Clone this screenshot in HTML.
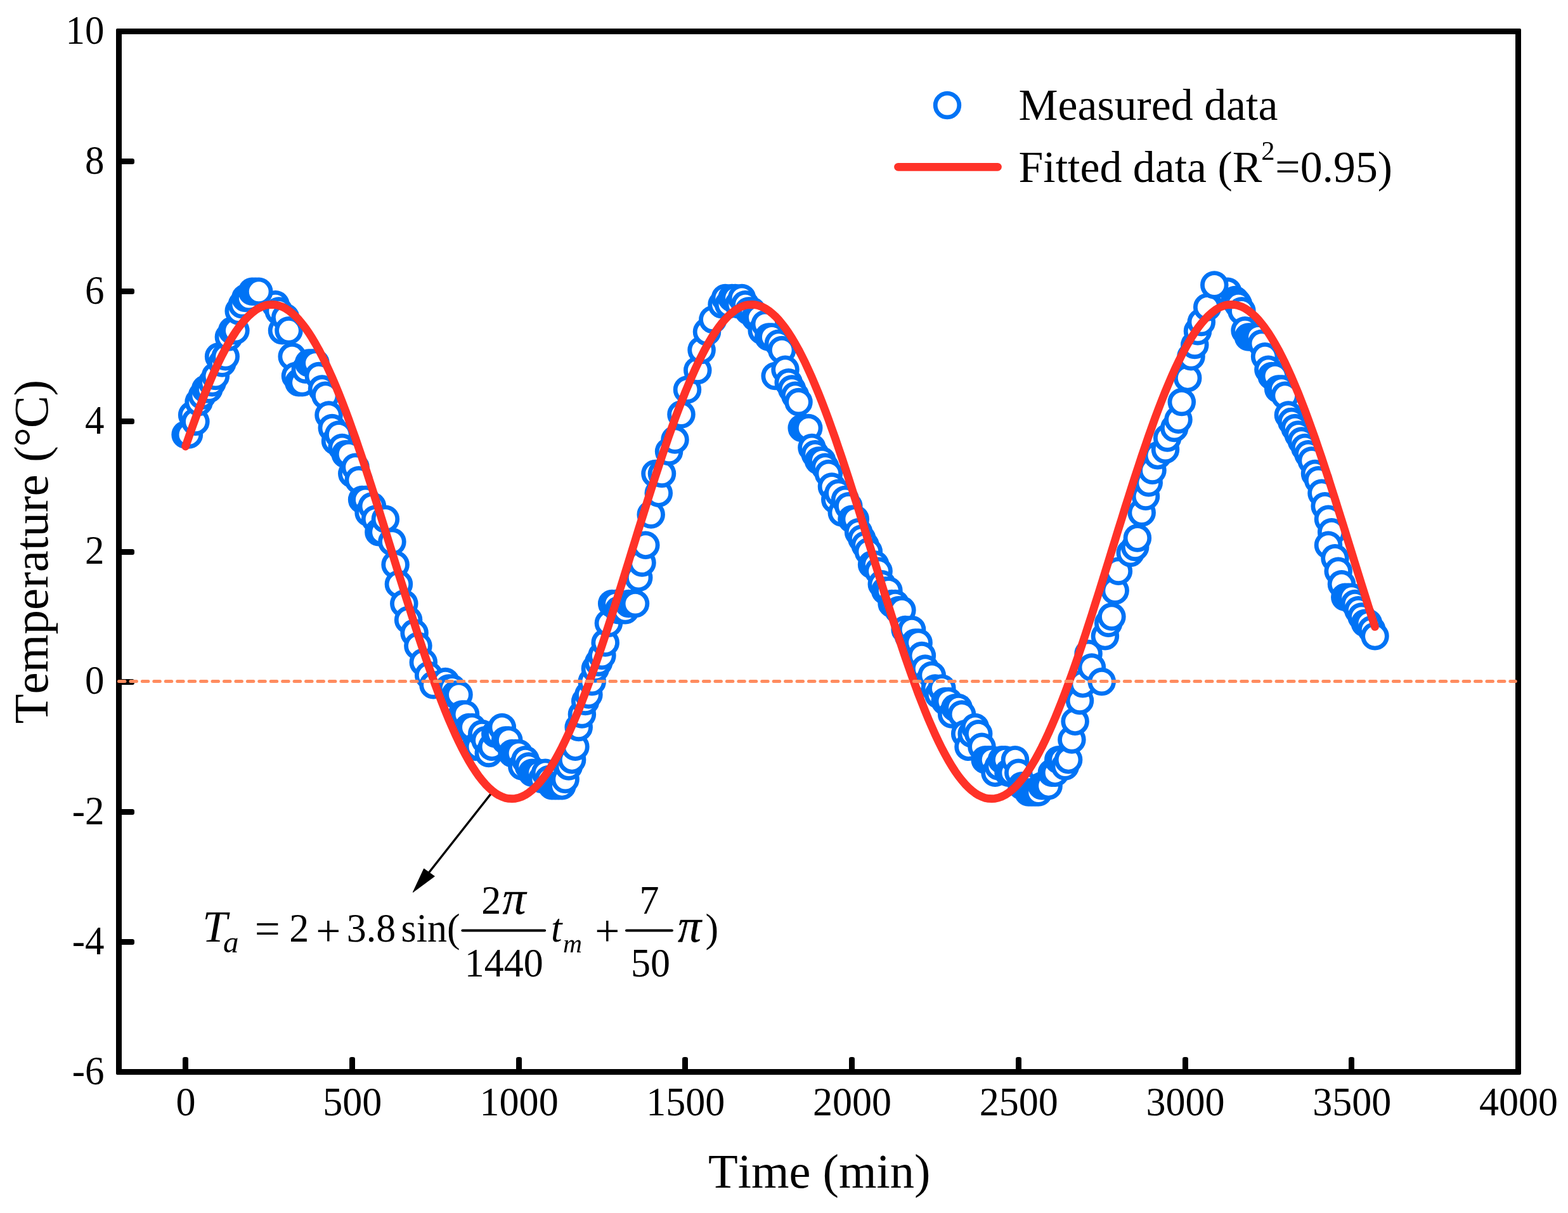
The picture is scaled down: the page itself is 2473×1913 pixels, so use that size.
<!DOCTYPE html>
<html lang="en"><head><meta charset="utf-8"><title>Measured and fitted temperature</title>
<style>html,body{margin:0;padding:0;background:#fff}svg{display:block}</style></head>
<body>
<svg width="2473" height="1913" viewBox="0 0 2473 1913" font-family="'Liberation Serif', serif" fill="#000" style="font-kerning:none">
<rect width="2473" height="1913" fill="#fff"/>
<g fill="#fff" stroke="#0073F5" stroke-width="6.8">
<circle cx="292.6" cy="685.4" r="18.85"/>
<circle cx="297.9" cy="685.4" r="18.85"/>
<circle cx="303.1" cy="654.6" r="18.85"/>
<circle cx="308.4" cy="664.9" r="18.85"/>
<circle cx="313.6" cy="634.1" r="18.85"/>
<circle cx="318.9" cy="623.8" r="18.85"/>
<circle cx="324.1" cy="613.6" r="18.85"/>
<circle cx="329.4" cy="613.6" r="18.85"/>
<circle cx="334.6" cy="603.3" r="18.85"/>
<circle cx="339.9" cy="593.1" r="18.85"/>
<circle cx="345.1" cy="562.3" r="18.85"/>
<circle cx="350.4" cy="572.6" r="18.85"/>
<circle cx="355.7" cy="562.3" r="18.85"/>
<circle cx="360.9" cy="531.5" r="18.85"/>
<circle cx="366.2" cy="521.3" r="18.85"/>
<circle cx="371.4" cy="521.3" r="18.85"/>
<circle cx="376.7" cy="490.5" r="18.85"/>
<circle cx="381.9" cy="480.3" r="18.85"/>
<circle cx="387.2" cy="470.0" r="18.85"/>
<circle cx="392.4" cy="470.0" r="18.85"/>
<circle cx="397.7" cy="459.8" r="18.85"/>
<circle cx="402.9" cy="459.8" r="18.85"/>
<circle cx="434.5" cy="480.3" r="18.85"/>
<circle cx="439.7" cy="490.5" r="18.85"/>
<circle cx="408.2" cy="459.8" r="18.85"/>
<circle cx="445.0" cy="521.3" r="18.85"/>
<circle cx="450.2" cy="500.8" r="18.85"/>
<circle cx="455.5" cy="521.3" r="18.85"/>
<circle cx="460.7" cy="562.3" r="18.85"/>
<circle cx="466.0" cy="593.1" r="18.85"/>
<circle cx="471.3" cy="603.3" r="18.85"/>
<circle cx="476.5" cy="603.3" r="18.85"/>
<circle cx="481.8" cy="582.8" r="18.85"/>
<circle cx="487.0" cy="572.6" r="18.85"/>
<circle cx="492.3" cy="572.6" r="18.85"/>
<circle cx="497.5" cy="572.6" r="18.85"/>
<circle cx="502.8" cy="593.1" r="18.85"/>
<circle cx="508.0" cy="613.6" r="18.85"/>
<circle cx="513.3" cy="623.8" r="18.85"/>
<circle cx="518.5" cy="654.6" r="18.85"/>
<circle cx="523.8" cy="675.1" r="18.85"/>
<circle cx="529.1" cy="695.6" r="18.85"/>
<circle cx="534.3" cy="685.4" r="18.85"/>
<circle cx="539.6" cy="705.9" r="18.85"/>
<circle cx="544.8" cy="716.2" r="18.85"/>
<circle cx="550.1" cy="716.2" r="18.85"/>
<circle cx="555.3" cy="746.9" r="18.85"/>
<circle cx="560.6" cy="736.7" r="18.85"/>
<circle cx="565.8" cy="757.2" r="18.85"/>
<circle cx="571.1" cy="788.0" r="18.85"/>
<circle cx="576.4" cy="788.0" r="18.85"/>
<circle cx="581.6" cy="808.5" r="18.85"/>
<circle cx="586.9" cy="798.2" r="18.85"/>
<circle cx="592.1" cy="818.7" r="18.85"/>
<circle cx="597.4" cy="839.2" r="18.85"/>
<circle cx="602.6" cy="839.2" r="18.85"/>
<circle cx="607.9" cy="818.7" r="18.85"/>
<circle cx="618.4" cy="854.6" r="18.85"/>
<circle cx="623.6" cy="890.5" r="18.85"/>
<circle cx="628.9" cy="921.3" r="18.85"/>
<circle cx="637.3" cy="952.1" r="18.85"/>
<circle cx="644.1" cy="977.7" r="18.85"/>
<circle cx="653.6" cy="998.2" r="18.85"/>
<circle cx="659.4" cy="1018.7" r="18.85"/>
<circle cx="667.8" cy="1044.4" r="18.85"/>
<circle cx="676.2" cy="1064.9" r="18.85"/>
<circle cx="683.5" cy="1080.3" r="18.85"/>
<circle cx="702.5" cy="1075.1" r="18.85"/>
<circle cx="707.7" cy="1085.4" r="18.85"/>
<circle cx="713.0" cy="1085.4" r="18.85"/>
<circle cx="718.2" cy="1095.6" r="18.85"/>
<circle cx="723.5" cy="1095.6" r="18.85"/>
<circle cx="728.7" cy="1126.4" r="18.85"/>
<circle cx="734.0" cy="1126.4" r="18.85"/>
<circle cx="739.2" cy="1146.9" r="18.85"/>
<circle cx="744.5" cy="1146.9" r="18.85"/>
<circle cx="749.8" cy="1177.7" r="18.85"/>
<circle cx="755.0" cy="1177.7" r="18.85"/>
<circle cx="760.3" cy="1157.2" r="18.85"/>
<circle cx="765.5" cy="1167.4" r="18.85"/>
<circle cx="770.8" cy="1187.9" r="18.85"/>
<circle cx="776.0" cy="1177.7" r="18.85"/>
<circle cx="781.3" cy="1157.2" r="18.85"/>
<circle cx="786.5" cy="1157.2" r="18.85"/>
<circle cx="791.8" cy="1146.9" r="18.85"/>
<circle cx="797.1" cy="1167.4" r="18.85"/>
<circle cx="802.3" cy="1167.4" r="18.85"/>
<circle cx="807.6" cy="1187.9" r="18.85"/>
<circle cx="812.8" cy="1187.9" r="18.85"/>
<circle cx="818.1" cy="1187.9" r="18.85"/>
<circle cx="823.3" cy="1208.5" r="18.85"/>
<circle cx="828.6" cy="1198.2" r="18.85"/>
<circle cx="833.8" cy="1208.5" r="18.85"/>
<circle cx="839.1" cy="1218.7" r="18.85"/>
<circle cx="844.3" cy="1218.7" r="18.85"/>
<circle cx="849.6" cy="1218.7" r="18.85"/>
<circle cx="854.9" cy="1229.0" r="18.85"/>
<circle cx="860.1" cy="1218.7" r="18.85"/>
<circle cx="865.4" cy="1229.0" r="18.85"/>
<circle cx="870.6" cy="1239.2" r="18.85"/>
<circle cx="875.9" cy="1239.2" r="18.85"/>
<circle cx="881.1" cy="1239.2" r="18.85"/>
<circle cx="886.4" cy="1239.2" r="18.85"/>
<circle cx="891.6" cy="1229.0" r="18.85"/>
<circle cx="896.9" cy="1208.5" r="18.85"/>
<circle cx="902.1" cy="1198.2" r="18.85"/>
<circle cx="907.4" cy="1177.7" r="18.85"/>
<circle cx="912.7" cy="1146.9" r="18.85"/>
<circle cx="917.9" cy="1126.4" r="18.85"/>
<circle cx="923.2" cy="1105.9" r="18.85"/>
<circle cx="928.4" cy="1095.6" r="18.85"/>
<circle cx="933.7" cy="1075.1" r="18.85"/>
<circle cx="938.9" cy="1054.6" r="18.85"/>
<circle cx="944.2" cy="1044.4" r="18.85"/>
<circle cx="949.4" cy="1034.1" r="18.85"/>
<circle cx="954.7" cy="1013.6" r="18.85"/>
<circle cx="959.9" cy="982.8" r="18.85"/>
<circle cx="965.2" cy="952.1" r="18.85"/>
<circle cx="970.5" cy="952.1" r="18.85"/>
<circle cx="975.7" cy="962.3" r="18.85"/>
<circle cx="981.0" cy="962.3" r="18.85"/>
<circle cx="986.2" cy="962.3" r="18.85"/>
<circle cx="991.5" cy="952.1" r="18.85"/>
<circle cx="996.7" cy="952.1" r="18.85"/>
<circle cx="1002.0" cy="952.1" r="18.85"/>
<circle cx="1007.2" cy="911.0" r="18.85"/>
<circle cx="1012.5" cy="887.4" r="18.85"/>
<circle cx="1018.3" cy="859.7" r="18.85"/>
<circle cx="1026.7" cy="811.5" r="18.85"/>
<circle cx="1033.5" cy="746.9" r="18.85"/>
<circle cx="1038.8" cy="777.7" r="18.85"/>
<circle cx="1044.0" cy="746.9" r="18.85"/>
<circle cx="1055.1" cy="712.1" r="18.85"/>
<circle cx="1064.5" cy="693.6" r="18.85"/>
<circle cx="1074.5" cy="653.6" r="18.85"/>
<circle cx="1084.0" cy="614.6" r="18.85"/>
<circle cx="1100.3" cy="583.9" r="18.85"/>
<circle cx="1106.6" cy="552.1" r="18.85"/>
<circle cx="1115.0" cy="523.3" r="18.85"/>
<circle cx="1124.4" cy="503.9" r="18.85"/>
<circle cx="1138.6" cy="480.3" r="18.85"/>
<circle cx="1143.9" cy="470.0" r="18.85"/>
<circle cx="1149.1" cy="480.3" r="18.85"/>
<circle cx="1154.4" cy="470.0" r="18.85"/>
<circle cx="1159.6" cy="470.0" r="18.85"/>
<circle cx="1164.9" cy="480.3" r="18.85"/>
<circle cx="1170.1" cy="470.0" r="18.85"/>
<circle cx="1175.4" cy="480.3" r="18.85"/>
<circle cx="1180.7" cy="490.5" r="18.85"/>
<circle cx="1185.9" cy="490.5" r="18.85"/>
<circle cx="1191.2" cy="500.8" r="18.85"/>
<circle cx="1196.4" cy="500.8" r="18.85"/>
<circle cx="1201.7" cy="521.3" r="18.85"/>
<circle cx="1206.9" cy="511.0" r="18.85"/>
<circle cx="1212.2" cy="531.5" r="18.85"/>
<circle cx="1217.4" cy="531.5" r="18.85"/>
<circle cx="1222.7" cy="593.1" r="18.85"/>
<circle cx="1227.9" cy="541.8" r="18.85"/>
<circle cx="1233.2" cy="552.1" r="18.85"/>
<circle cx="1238.5" cy="582.8" r="18.85"/>
<circle cx="1243.7" cy="603.3" r="18.85"/>
<circle cx="1249.0" cy="613.6" r="18.85"/>
<circle cx="1254.2" cy="623.8" r="18.85"/>
<circle cx="1259.5" cy="634.1" r="18.85"/>
<circle cx="1264.7" cy="675.1" r="18.85"/>
<circle cx="1270.0" cy="675.1" r="18.85"/>
<circle cx="1275.2" cy="675.1" r="18.85"/>
<circle cx="1280.5" cy="705.9" r="18.85"/>
<circle cx="1285.7" cy="716.2" r="18.85"/>
<circle cx="1291.0" cy="726.4" r="18.85"/>
<circle cx="1296.3" cy="726.4" r="18.85"/>
<circle cx="1301.5" cy="736.7" r="18.85"/>
<circle cx="1306.8" cy="746.9" r="18.85"/>
<circle cx="1312.0" cy="767.4" r="18.85"/>
<circle cx="1317.3" cy="788.0" r="18.85"/>
<circle cx="1322.5" cy="777.7" r="18.85"/>
<circle cx="1327.8" cy="808.5" r="18.85"/>
<circle cx="1333.0" cy="788.0" r="18.85"/>
<circle cx="1338.3" cy="798.2" r="18.85"/>
<circle cx="1343.5" cy="818.7" r="18.85"/>
<circle cx="1348.8" cy="818.7" r="18.85"/>
<circle cx="1354.1" cy="839.2" r="18.85"/>
<circle cx="1359.3" cy="849.5" r="18.85"/>
<circle cx="1364.6" cy="859.7" r="18.85"/>
<circle cx="1369.8" cy="870.0" r="18.85"/>
<circle cx="1375.1" cy="890.5" r="18.85"/>
<circle cx="1380.3" cy="890.5" r="18.85"/>
<circle cx="1385.6" cy="900.8" r="18.85"/>
<circle cx="1390.8" cy="921.3" r="18.85"/>
<circle cx="1396.1" cy="931.5" r="18.85"/>
<circle cx="1401.4" cy="931.5" r="18.85"/>
<circle cx="1406.6" cy="952.1" r="18.85"/>
<circle cx="1411.9" cy="952.1" r="18.85"/>
<circle cx="1417.1" cy="962.3" r="18.85"/>
<circle cx="1422.4" cy="962.3" r="18.85"/>
<circle cx="1427.6" cy="993.1" r="18.85"/>
<circle cx="1432.9" cy="1003.3" r="18.85"/>
<circle cx="1438.1" cy="993.1" r="18.85"/>
<circle cx="1443.4" cy="1013.6" r="18.85"/>
<circle cx="1448.6" cy="1013.6" r="18.85"/>
<circle cx="1453.9" cy="1034.1" r="18.85"/>
<circle cx="1459.2" cy="1054.6" r="18.85"/>
<circle cx="1464.4" cy="1075.1" r="18.85"/>
<circle cx="1469.7" cy="1064.9" r="18.85"/>
<circle cx="1474.9" cy="1085.4" r="18.85"/>
<circle cx="1480.2" cy="1095.6" r="18.85"/>
<circle cx="1485.4" cy="1085.4" r="18.85"/>
<circle cx="1490.7" cy="1105.9" r="18.85"/>
<circle cx="1495.9" cy="1105.9" r="18.85"/>
<circle cx="1501.2" cy="1126.4" r="18.85"/>
<circle cx="1506.4" cy="1116.2" r="18.85"/>
<circle cx="1511.7" cy="1116.2" r="18.85"/>
<circle cx="1517.0" cy="1126.4" r="18.85"/>
<circle cx="1522.2" cy="1157.2" r="18.85"/>
<circle cx="1527.5" cy="1177.7" r="18.85"/>
<circle cx="1532.7" cy="1157.2" r="18.85"/>
<circle cx="1538.0" cy="1146.9" r="18.85"/>
<circle cx="1543.2" cy="1157.2" r="18.85"/>
<circle cx="1548.5" cy="1177.7" r="18.85"/>
<circle cx="1553.7" cy="1198.2" r="18.85"/>
<circle cx="1559.0" cy="1198.2" r="18.85"/>
<circle cx="1564.2" cy="1198.2" r="18.85"/>
<circle cx="1569.5" cy="1218.7" r="18.85"/>
<circle cx="1574.8" cy="1208.5" r="18.85"/>
<circle cx="1580.0" cy="1198.2" r="18.85"/>
<circle cx="1585.3" cy="1198.2" r="18.85"/>
<circle cx="1590.5" cy="1218.7" r="18.85"/>
<circle cx="1595.8" cy="1218.7" r="18.85"/>
<circle cx="1601.0" cy="1198.2" r="18.85"/>
<circle cx="1606.3" cy="1218.7" r="18.85"/>
<circle cx="1611.5" cy="1239.2" r="18.85"/>
<circle cx="1616.8" cy="1239.2" r="18.85"/>
<circle cx="1622.0" cy="1249.5" r="18.85"/>
<circle cx="1627.3" cy="1249.5" r="18.85"/>
<circle cx="1632.6" cy="1249.5" r="18.85"/>
<circle cx="1637.8" cy="1249.5" r="18.85"/>
<circle cx="1643.1" cy="1239.2" r="18.85"/>
<circle cx="1648.3" cy="1239.2" r="18.85"/>
<circle cx="1653.6" cy="1239.2" r="18.85"/>
<circle cx="1658.8" cy="1218.7" r="18.85"/>
<circle cx="1664.1" cy="1218.7" r="18.85"/>
<circle cx="1669.3" cy="1198.2" r="18.85"/>
<circle cx="1674.6" cy="1198.2" r="18.85"/>
<circle cx="1679.9" cy="1208.5" r="18.85"/>
<circle cx="1685.1" cy="1198.2" r="18.85"/>
<circle cx="1690.4" cy="1166.4" r="18.85"/>
<circle cx="1695.6" cy="1137.7" r="18.85"/>
<circle cx="1703.0" cy="1104.9" r="18.85"/>
<circle cx="1707.7" cy="1078.2" r="18.85"/>
<circle cx="1716.6" cy="1031.0" r="18.85"/>
<circle cx="1721.9" cy="1052.6" r="18.85"/>
<circle cx="1737.7" cy="1075.1" r="18.85"/>
<circle cx="1742.9" cy="1003.3" r="18.85"/>
<circle cx="1748.2" cy="982.8" r="18.85"/>
<circle cx="1753.4" cy="972.6" r="18.85"/>
<circle cx="1758.7" cy="931.5" r="18.85"/>
<circle cx="1763.9" cy="900.8" r="18.85"/>
<circle cx="1782.8" cy="872.1" r="18.85"/>
<circle cx="1790.2" cy="862.8" r="18.85"/>
<circle cx="1793.9" cy="848.5" r="18.85"/>
<circle cx="1800.7" cy="808.5" r="18.85"/>
<circle cx="1807.0" cy="782.8" r="18.85"/>
<circle cx="1811.7" cy="761.3" r="18.85"/>
<circle cx="1817.5" cy="741.8" r="18.85"/>
<circle cx="1825.9" cy="718.2" r="18.85"/>
<circle cx="1838.0" cy="709.0" r="18.85"/>
<circle cx="1841.2" cy="690.5" r="18.85"/>
<circle cx="1852.2" cy="675.1" r="18.85"/>
<circle cx="1858.5" cy="661.8" r="18.85"/>
<circle cx="1863.8" cy="634.1" r="18.85"/>
<circle cx="1873.2" cy="596.2" r="18.85"/>
<circle cx="1878.5" cy="562.3" r="18.85"/>
<circle cx="1884.3" cy="543.9" r="18.85"/>
<circle cx="1889.0" cy="522.3" r="18.85"/>
<circle cx="1894.8" cy="508.0" r="18.85"/>
<circle cx="1904.2" cy="484.4" r="18.85"/>
<circle cx="1936.3" cy="459.8" r="18.85"/>
<circle cx="1947.8" cy="473.1" r="18.85"/>
<circle cx="1951.5" cy="477.2" r="18.85"/>
<circle cx="1953.1" cy="480.3" r="18.85"/>
<circle cx="1915.3" cy="449.5" r="18.85"/>
<circle cx="1958.4" cy="490.5" r="18.85"/>
<circle cx="1963.6" cy="521.3" r="18.85"/>
<circle cx="1968.9" cy="531.5" r="18.85"/>
<circle cx="1974.1" cy="531.5" r="18.85"/>
<circle cx="1979.4" cy="531.5" r="18.85"/>
<circle cx="1984.6" cy="531.5" r="18.85"/>
<circle cx="1989.9" cy="541.8" r="18.85"/>
<circle cx="1995.1" cy="562.3" r="18.85"/>
<circle cx="2000.4" cy="582.8" r="18.85"/>
<circle cx="2005.6" cy="593.1" r="18.85"/>
<circle cx="2010.9" cy="593.1" r="18.85"/>
<circle cx="2016.2" cy="613.6" r="18.85"/>
<circle cx="2021.4" cy="613.6" r="18.85"/>
<circle cx="2026.7" cy="623.8" r="18.85"/>
<circle cx="2031.9" cy="654.6" r="18.85"/>
<circle cx="2037.2" cy="664.9" r="18.85"/>
<circle cx="2042.4" cy="675.1" r="18.85"/>
<circle cx="2047.7" cy="685.4" r="18.85"/>
<circle cx="2052.9" cy="695.6" r="18.85"/>
<circle cx="2058.2" cy="705.9" r="18.85"/>
<circle cx="2063.4" cy="716.2" r="18.85"/>
<circle cx="2068.7" cy="726.4" r="18.85"/>
<circle cx="2074.0" cy="746.9" r="18.85"/>
<circle cx="2079.2" cy="757.2" r="18.85"/>
<circle cx="2084.5" cy="777.7" r="18.85"/>
<circle cx="2089.7" cy="798.2" r="18.85"/>
<circle cx="2095.0" cy="818.7" r="18.85"/>
<circle cx="2100.2" cy="839.2" r="18.85"/>
<circle cx="2095.0" cy="859.7" r="18.85"/>
<circle cx="2105.5" cy="880.3" r="18.85"/>
<circle cx="2110.7" cy="900.8" r="18.85"/>
<circle cx="2116.0" cy="921.3" r="18.85"/>
<circle cx="2121.3" cy="941.8" r="18.85"/>
<circle cx="2126.5" cy="941.8" r="18.85"/>
<circle cx="2131.8" cy="941.8" r="18.85"/>
<circle cx="2137.0" cy="952.1" r="18.85"/>
<circle cx="2142.3" cy="962.3" r="18.85"/>
<circle cx="2147.5" cy="972.6" r="18.85"/>
<circle cx="2152.8" cy="982.8" r="18.85"/>
<circle cx="2158.0" cy="982.8" r="18.85"/>
<circle cx="2163.3" cy="993.1" r="18.85"/>
<circle cx="2168.5" cy="1003.3" r="18.85"/>
</g>
<line x1="777" y1="1248.4" x2="675" y2="1378" stroke="#000" stroke-width="3.4"/>
<polygon points="651.3,1407.2 668.6,1370 685.4,1382" fill="#000" stroke="#000" stroke-width="1" stroke-linejoin="round"/>
<path d="M292.6,704.1L297.9,688.8L303.1,674.0L308.4,659.4L313.6,645.3L318.9,631.7L324.1,618.4L329.4,605.7L334.6,593.5L339.9,581.7L345.1,570.6L350.4,560.0L355.7,550.0L360.9,540.6L366.2,531.8L371.4,523.7L376.7,516.2L381.9,509.4L387.2,503.3L392.4,497.9L397.7,493.2L402.9,489.2L408.2,485.9L413.5,483.4L418.7,481.6L424.0,480.6L429.2,480.3L434.5,480.7L439.7,481.9L445.0,483.8L450.2,486.4L455.5,489.8L460.7,493.9L466.0,498.7L471.3,504.2L476.5,510.5L481.8,517.4L487.0,524.9L492.3,533.2L497.5,542.0L502.8,551.5L508.0,561.6L513.3,572.3L518.5,583.6L523.8,595.4L529.1,607.7L534.3,620.5L539.6,633.8L544.8,647.6L550.1,661.7L555.3,676.3L560.6,691.2L565.8,706.5L571.1,722.1L576.4,738.0L581.6,754.1L586.9,770.4L592.1,787.0L597.4,803.7L602.6,820.5L607.9,837.4L613.1,854.4L618.4,871.4L623.6,888.4L628.9,905.3L634.2,922.2L639.4,939.0L644.7,955.7L649.9,972.2L655.2,988.5L660.4,1004.6L665.7,1020.4L670.9,1035.9L676.2,1051.2L681.4,1066.0L686.7,1080.6L692.0,1094.7L697.2,1108.3L702.5,1121.6L707.7,1134.3L713.0,1146.5L718.2,1158.3L723.5,1169.4L728.7,1180.0L734.0,1190.0L739.2,1199.4L744.5,1208.2L749.8,1216.3L755.0,1223.8L760.3,1230.6L765.5,1236.7L770.8,1242.1L776.0,1246.8L781.3,1250.8L786.5,1254.1L791.8,1256.6L797.1,1258.4L802.3,1259.4L807.6,1259.7L812.8,1259.3L818.1,1258.1L823.3,1256.2L828.6,1253.6L833.8,1250.2L839.1,1246.1L844.3,1241.3L849.6,1235.8L854.9,1229.5L860.1,1222.6L865.4,1215.1L870.6,1206.8L875.9,1198.0L881.1,1188.5L886.4,1178.4L891.6,1167.7L896.9,1156.4L902.1,1144.6L907.4,1132.3L912.7,1119.5L917.9,1106.2L923.2,1092.4L928.4,1078.3L933.7,1063.7L938.9,1048.8L944.2,1033.5L949.4,1017.9L954.7,1002.0L959.9,985.9L965.2,969.6L970.5,953.0L975.7,936.3L981.0,919.5L986.2,902.6L991.5,885.6L996.7,868.6L1002.0,851.6L1007.2,834.7L1012.5,817.8L1017.8,801.0L1023.0,784.3L1028.3,767.8L1033.5,751.5L1038.8,735.4L1044.0,719.6L1049.3,704.1L1054.5,688.8L1059.8,674.0L1065.0,659.4L1070.3,645.3L1075.6,631.7L1080.8,618.4L1086.1,605.7L1091.3,593.5L1096.6,581.7L1101.8,570.6L1107.1,560.0L1112.3,550.0L1117.6,540.6L1122.8,531.8L1128.1,523.7L1133.4,516.2L1138.6,509.4L1143.9,503.3L1149.1,497.9L1154.4,493.2L1159.6,489.2L1164.9,485.9L1170.1,483.4L1175.4,481.6L1180.7,480.6L1185.9,480.3L1191.2,480.7L1196.4,481.9L1201.7,483.8L1206.9,486.4L1212.2,489.8L1217.4,493.9L1222.7,498.7L1227.9,504.2L1233.2,510.5L1238.5,517.4L1243.7,524.9L1249.0,533.2L1254.2,542.0L1259.5,551.5L1264.7,561.6L1270.0,572.3L1275.2,583.6L1280.5,595.4L1285.7,607.7L1291.0,620.5L1296.3,633.8L1301.5,647.6L1306.8,661.7L1312.0,676.3L1317.3,691.2L1322.5,706.5L1327.8,722.1L1333.0,738.0L1338.3,754.1L1343.5,770.4L1348.8,787.0L1354.1,803.7L1359.3,820.5L1364.6,837.4L1369.8,854.4L1375.1,871.4L1380.3,888.4L1385.6,905.3L1390.8,922.2L1396.1,939.0L1401.4,955.7L1406.6,972.2L1411.9,988.5L1417.1,1004.6L1422.4,1020.4L1427.6,1035.9L1432.9,1051.2L1438.1,1066.0L1443.4,1080.6L1448.6,1094.7L1453.9,1108.3L1459.2,1121.6L1464.4,1134.3L1469.7,1146.5L1474.9,1158.3L1480.2,1169.4L1485.4,1180.0L1490.7,1190.0L1495.9,1199.4L1501.2,1208.2L1506.4,1216.3L1511.7,1223.8L1517.0,1230.6L1522.2,1236.7L1527.5,1242.1L1532.7,1246.8L1538.0,1250.8L1543.2,1254.1L1548.5,1256.6L1553.7,1258.4L1559.0,1259.4L1564.2,1259.7L1569.5,1259.3L1574.8,1258.1L1580.0,1256.2L1585.3,1253.6L1590.5,1250.2L1595.8,1246.1L1601.0,1241.3L1606.3,1235.8L1611.5,1229.5L1616.8,1222.6L1622.0,1215.1L1627.3,1206.8L1632.6,1198.0L1637.8,1188.5L1643.1,1178.4L1648.3,1167.7L1653.6,1156.4L1658.8,1144.6L1664.1,1132.3L1669.3,1119.5L1674.6,1106.2L1679.9,1092.4L1685.1,1078.3L1690.4,1063.7L1695.6,1048.8L1700.9,1033.5L1706.1,1017.9L1711.4,1002.0L1716.6,985.9L1721.9,969.6L1727.1,953.0L1732.4,936.3L1737.7,919.5L1742.9,902.6L1748.2,885.6L1753.4,868.6L1758.7,851.6L1763.9,834.7L1769.2,817.8L1774.4,801.0L1779.7,784.3L1784.9,767.8L1790.2,751.5L1795.5,735.4L1800.7,719.6L1806.0,704.1L1811.2,688.8L1816.5,674.0L1821.7,659.4L1827.0,645.3L1832.2,631.7L1837.5,618.4L1842.8,605.7L1848.0,593.5L1853.3,581.7L1858.5,570.6L1863.8,560.0L1869.0,550.0L1874.3,540.6L1879.5,531.8L1884.8,523.7L1890.0,516.2L1895.3,509.4L1900.6,503.3L1905.8,497.9L1911.1,493.2L1916.3,489.2L1921.6,485.9L1926.8,483.4L1932.1,481.6L1937.3,480.6L1942.6,480.3L1947.8,480.7L1953.1,481.9L1958.4,483.8L1963.6,486.4L1968.9,489.8L1974.1,493.9L1979.4,498.7L1984.6,504.2L1989.9,510.5L1995.1,517.4L2000.4,524.9L2005.6,533.2L2010.9,542.0L2016.2,551.5L2021.4,561.6L2026.7,572.3L2031.9,583.6L2037.2,595.4L2042.4,607.7L2047.7,620.5L2052.9,633.8L2058.2,647.6L2063.4,661.7L2068.7,676.3L2074.0,691.2L2079.2,706.5L2084.5,722.1L2089.7,738.0L2095.0,754.1L2100.2,770.4L2105.5,787.0L2110.7,803.7L2116.0,820.5L2121.3,837.4L2126.5,854.4L2131.8,871.4L2137.0,888.4L2142.3,905.3L2147.5,922.2L2152.8,939.0L2158.0,955.7L2163.3,972.2L2168.5,988.5" fill="none" stroke="#FF3228" stroke-width="12.7" stroke-linecap="round" stroke-linejoin="round"/>
<path fill-rule="evenodd" d="M185.0,45.0H2397.0Q2399.0,45.0 2399.0,47.0V1693.0Q2399.0,1695.0 2397.0,1695.0H185.0Q183.0,1695.0 183.0,1693.0V47.0Q183.0,45.0 185.0,45.0ZM192.0,54.0V1686.0H2390.0V54.0Z"/>
<g fill="#000">
<rect x="187.5" y="1481.0" width="24.5" height="9" rx="3.2" ry="3.5"/>
<rect x="187.5" y="1276.0" width="24.5" height="9" rx="3.2" ry="3.5"/>
<rect x="187.5" y="1071.0" width="24.5" height="9" rx="3.2" ry="3.5"/>
<rect x="187.5" y="866.0" width="24.5" height="9" rx="3.2" ry="3.5"/>
<rect x="187.5" y="660.0" width="24.5" height="9" rx="3.2" ry="3.5"/>
<rect x="187.5" y="455.0" width="24.5" height="9" rx="3.2" ry="3.5"/>
<rect x="187.5" y="250.0" width="24.5" height="9" rx="3.2" ry="3.5"/>
<rect x="288.0" y="1667.0" width="9" height="23.5" rx="3.5" ry="3.2"/>
<rect x="551.0" y="1667.0" width="9" height="23.5" rx="3.5" ry="3.2"/>
<rect x="814.0" y="1667.0" width="9" height="23.5" rx="3.5" ry="3.2"/>
<rect x="1076.0" y="1667.0" width="9" height="23.5" rx="3.5" ry="3.2"/>
<rect x="1339.0" y="1667.0" width="9" height="23.5" rx="3.5" ry="3.2"/>
<rect x="1602.0" y="1667.0" width="9" height="23.5" rx="3.5" ry="3.2"/>
<rect x="1865.0" y="1667.0" width="9" height="23.5" rx="3.5" ry="3.2"/>
<rect x="2127.0" y="1667.0" width="9" height="23.5" rx="3.5" ry="3.2"/>
</g>
<line x1="187.5" y1="1074.5" x2="2390.3" y2="1074.5" stroke="#FF8C5F" stroke-width="5" stroke-linecap="round" stroke-dasharray="9.5 8.94"/>
<g font-size="62.1">
<text transform="translate(164.6,1709.7) scale(1,1.035)" font-size="61" text-anchor="end">-6</text>
<text transform="translate(164.6,1504.6) scale(1,1.035)" font-size="61" text-anchor="end">-4</text>
<text transform="translate(164.6,1299.5) scale(1,1.035)" font-size="61" text-anchor="end">-2</text>
<text transform="translate(164.6,1094.3) scale(1,1.035)" font-size="61" text-anchor="end">0</text>
<text transform="translate(164.6,889.2) scale(1,1.035)" font-size="61" text-anchor="end">2</text>
<text transform="translate(164.6,684.1) scale(1,1.035)" font-size="61" text-anchor="end">4</text>
<text transform="translate(164.6,478.9) scale(1,1.035)" font-size="61" text-anchor="end">6</text>
<text transform="translate(164.6,273.8) scale(1,1.035)" font-size="61" text-anchor="end">8</text>
<text transform="translate(164.6,68.7) scale(1,1.035)" font-size="61" text-anchor="end">10</text>
<text transform="translate(293.1,1759.3) scale(1,1.015)" text-anchor="middle">0</text>
<text transform="translate(555.8,1759.3) scale(1,1.015)" text-anchor="middle">500</text>
<text transform="translate(818.6,1759.3) scale(1,1.015)" text-anchor="middle">1000</text>
<text transform="translate(1081.3,1759.3) scale(1,1.015)" text-anchor="middle">1500</text>
<text transform="translate(1344.0,1759.3) scale(1,1.015)" text-anchor="middle">2000</text>
<text transform="translate(1606.8,1759.3) scale(1,1.015)" text-anchor="middle">2500</text>
<text transform="translate(1869.5,1759.3) scale(1,1.015)" text-anchor="middle">3000</text>
<text transform="translate(2132.3,1759.3) scale(1,1.015)" text-anchor="middle">3500</text>
<text transform="translate(2395.0,1759.3) scale(1,1.015)" text-anchor="middle">4000</text>
</g>
<text x="1292.2" y="1873.2" font-size="76.5" text-anchor="middle">Time (min)</text>
<text transform="translate(75,1141.6) rotate(-90)" font-size="77">Temperature (<tspan dx="-1.3">°</tspan><tspan dx="-1.3">C</tspan><tspan dx="-0.6">)</tspan></text>
<circle cx="1494" cy="166" r="18.8" fill="#fff" stroke="#0073F5" stroke-width="6.8"/>
<line x1="1416.5" y1="263.3" x2="1573.5" y2="263.3" stroke="#FF3228" stroke-width="12.7" stroke-linecap="round"/>
<text x="1606.5" y="189.1" font-size="69.8">Measured data</text>
<text x="1606.5" y="287.3" font-size="69.8">Fitted data (R<tspan dx="-1.1" dy="-34.9" font-size="42.7">2</tspan><tspan dx="0.75" dy="34.9">=0.95)</tspan></text>
<text transform="translate(319.3,1484.7) scale(1,1)" font-size="70.5" font-style="italic" text-anchor="start">T</text>
<text transform="translate(352,1502.2) scale(1,1)" font-size="49" font-style="italic" text-anchor="start">a</text>
<text transform="translate(421.65,1489.3) scale(1,1)" font-size="71" text-anchor="middle">=</text>
<text transform="translate(456.3,1484.7) scale(1,1.03)" font-size="62" text-anchor="start">2</text>
<text transform="translate(517.7,1491.7) scale(1,1)" font-size="69.3" text-anchor="middle">+</text>
<text transform="translate(546.8,1484.7) scale(1,1.03)" font-size="62" text-anchor="start">3.8</text>
<text transform="translate(632.6,1484.7) scale(1,1.03)" font-size="62" text-anchor="start">sin(</text>
<line x1="729.4" y1="1467.4" x2="859.1" y2="1467.4" stroke="#000" stroke-width="4" stroke-linecap="round"/>
<text transform="translate(759.3,1441.1) scale(1,1.03)" font-size="62" text-anchor="start">2</text>
<text transform="translate(792.5,1441.1) scale(1,1)" font-size="74" font-style="italic" text-anchor="start" stroke="#000" stroke-width="0.35">π</text>
<text transform="translate(794.8,1539.7) scale(1,1.03)" font-size="62" text-anchor="middle">1440</text>
<text transform="translate(869,1484.7) scale(1,1)" font-size="63" font-style="italic" text-anchor="start">t</text>
<text transform="translate(888,1502.2) scale(1,1)" font-size="41.5" font-style="italic" text-anchor="start">m</text>
<text transform="translate(957.7,1491.7) scale(1,1)" font-size="69.3" text-anchor="middle">+</text>
<line x1="988" y1="1467.4" x2="1059.9" y2="1467.4" stroke="#000" stroke-width="4" stroke-linecap="round"/>
<text transform="translate(1024,1441.1) scale(1,1.03)" font-size="62" text-anchor="middle">7</text>
<text transform="translate(1026,1539.7) scale(1,1.03)" font-size="62" text-anchor="middle">50</text>
<text transform="translate(1069,1484.7) scale(1,1)" font-size="74" font-style="italic" text-anchor="start" stroke="#000" stroke-width="0.35">π</text>
<text transform="translate(1112.5,1484.7) scale(1,1.03)" font-size="62" text-anchor="start">)</text>
</svg>
</body></html>
